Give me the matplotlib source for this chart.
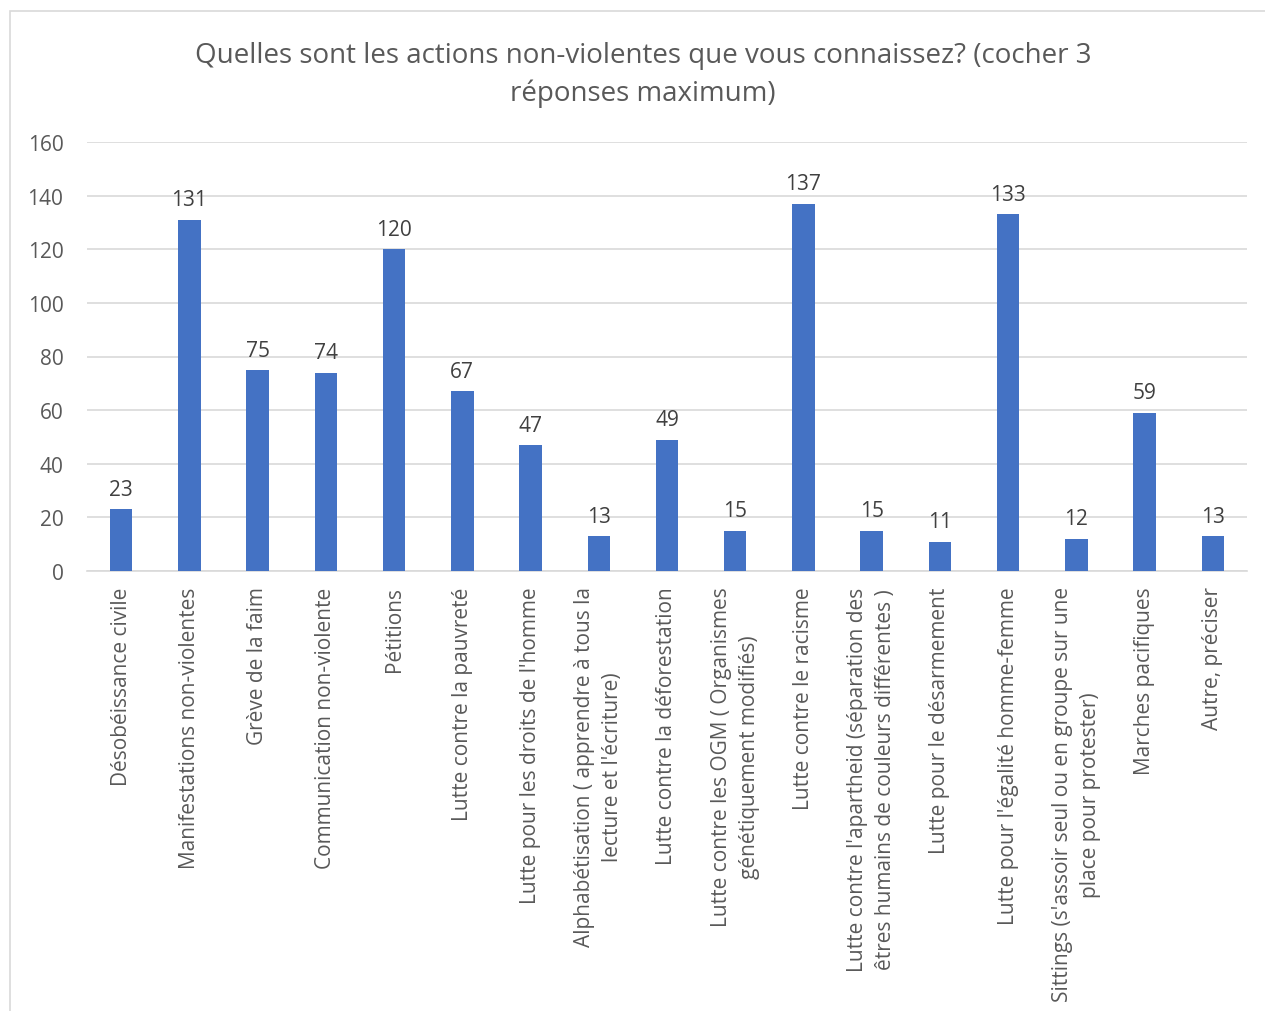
import matplotlib.pyplot as plt
from matplotlib.patches import Rectangle

plt.rcParams['font.family'] = ['Open Sans', 'DejaVu Sans']

categories = [
    "Désobéissance civile",
    "Manifestations non-violentes",
    "Grève de la faim",
    "Communication non-violente",
    "Pétitions",
    "Lutte contre la pauvreté",
    "Lutte pour les droits de l'homme",
    "Alphabétisation ( apprendre à tous la\nlecture et l'écriture)",
    "Lutte contre la déforestation",
    "Lutte contre les OGM ( Organismes\ngénétiquement modifiés)",
    "Lutte contre le racisme",
    "Lutte contre l'apartheid (séparation des\nêtres humains de couleurs différentes )",
    "Lutte pour le désarmement",
    "Lutte pour l'égalité homme-femme",
    "Sittings (s'assoir seul ou en groupe sur une\nplace pour protester)",
    "Marches pacifiques",
    "Autre, préciser",
]
counts = [23, 131, 75, 74, 120, 67, 47, 13, 49, 15, 137, 15, 11, 133, 12, 59, 13]
yticks = [0, 20, 40, 60, 80, 100, 120, 140, 160]

W, H = 1265, 1012
fig = plt.figure(figsize=(W / 100, H / 100), dpi=100)
ax = fig.add_axes([87 / W, 1 - 572 / H, (1247 - 87) / W, (572 - 143) / H])

# chart border
fig.patches.append(Rectangle((10 / W, -0.01), 1.0, 1 - 12 / H + 0.01,
                             transform=fig.transFigure, fill=False,
                             edgecolor='#d9d9d9', linewidth=1.2))

x = list(range(len(categories)))
bars = ax.bar(x, counts, width=0.33, color='#4472c4', zorder=3)
for xi, v in zip(x, counts):
    ax.text(xi, v + 3.5, str(v), ha='center', va='bottom', fontsize=15, color='#404040')

ax.set_xlim(-0.5, len(categories) - 0.5)
ax.set_ylim(0, 160)
ax.set_yticks(yticks)
ax.set_yticklabels([str(t) for t in yticks], fontsize=15, color='#595959')
ax.set_xticks(x)
ax.set_xticklabels(categories, rotation=90, fontsize=15, color='#595959',
                   ha='center', va='top', multialignment='center', linespacing=1.45)
ax.tick_params(axis='x', length=0, pad=11)
ax.tick_params(axis='y', length=0, pad=17)
ax.grid(axis='y', color='#d9d9d9', linewidth=1.2, zorder=0)
for s in ['top', 'right', 'left']:
    ax.spines[s].set_visible(False)
ax.spines['bottom'].set_color('#d9d9d9')
ax.spines['bottom'].set_linewidth(1.2)

fig.text(643 / W, 1 - 75 / H,
         "Quelles sont les actions non-violentes que vous connaissez? (cocher 3\nréponses maximum)",
         ha='center', va='center', fontsize=20, color='#595959', linespacing=1.45)

fig.savefig('out.png', dpi=100)
